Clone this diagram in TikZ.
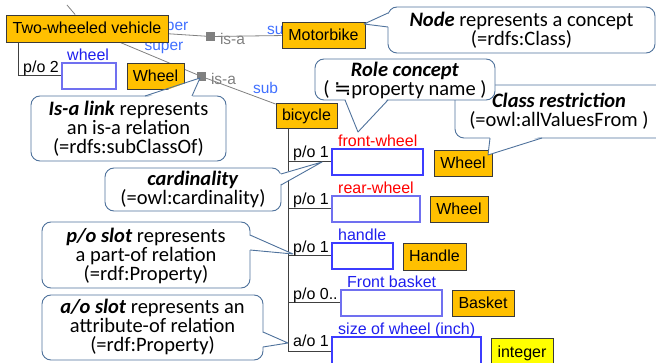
\documentclass[tikz,border=0pt]{standalone}
\usepackage{fontspec}
\usetikzlibrary{backgrounds}
\setmainfont{Liberation Sans}
\newfontfamily\calfont{Carlito}
\newfontfamily\symfont{DejaVu Sans}
\definecolor{gold}{HTML}{FFC000}
\definecolor{yel}{HTML}{FFFF00}
\definecolor{boxborder}{HTML}{3A3A3A}
\definecolor{slotblue}{HTML}{3C3CFF}
\definecolor{slotlight}{HTML}{7070F0}
\definecolor{lblblue}{HTML}{1E1EEE}
\definecolor{lblred}{HTML}{FF0000}
\definecolor{relblue}{HTML}{4070FF}
\definecolor{isagray}{HTML}{808080}
\definecolor{callblue}{HTML}{4F729C}
\definecolor{treegray}{HTML}{404040}
\begin{document}
\begin{tikzpicture}[x=1pt,y=-1pt,
  cls/.style={draw=boxborder, fill=gold, line width=0.8pt, inner sep=0pt,
    font=\fontsize{16}{18}\selectfont, text height=13pt, text depth=2pt},
  slotbox/.style={draw=slotblue, fill=white, line width=1.1pt, inner sep=0pt},
  slotlbl/.style={anchor=base west, inner sep=0pt, font=\fontsize{16}{18}\selectfont},
  cardlbl/.style={anchor=base west, inner sep=0pt, font=\fontsize{16}{18}\selectfont},
  rel/.style={inner sep=0pt, text=relblue, font=\fontsize{15.5}{17}\selectfont, text height=11pt, text depth=3pt},
  isalbl/.style={inner sep=0pt, text=isagray, font=\fontsize{15.5}{17}\selectfont, text height=11pt, text depth=3pt},
  isasq/.style={fill=isagray, minimum size=9pt, inner sep=0pt},
  isaline/.style={draw=isagray, line width=0.8pt},
  tree/.style={draw=treegray, line width=1pt},
  callout/.style={draw=callblue, fill=white, line width=0.9pt, rounded corners=9pt},
  pointer/.style={draw=callblue, line width=0.9pt, line join=round},
  calltext/.style={inner sep=0pt, align=center, font=\calfont\fontsize{20.5}{19}\selectfont}
]
\path[use as bounding box] (0,0) rectangle (656,363);

% relation labels (behind boxes)
\node[rel] (super1) at (169,27) {super};
\node[rel] (super2) at (164,47) {super};
\node[rel] (sub1) at (279.5,31) {sub};
\node[rel] (sub2) at (265.5,90) {sub};
\node[isalbl] (isa1) at (232.5,41) {is-a};
\node[isalbl] (isa2) at (223.5,81) {is-a};

% class boxes
\node[cls, minimum width=162pt, minimum height=27pt] (tw) at (87,28.5) {Two-wheeled vehicle};
\node[cls, minimum width=83pt, minimum height=26pt] (motor) at (323.5,35) {Motorbike};
\node[cls, minimum width=57pt, minimum height=26pt] (wheelA) at (155.5,76) {Wheel};
\node[cls, minimum width=61pt, minimum height=25pt] (bicycle) at (306.5,115.5) {bicycle};
\node[cls, minimum width=58pt, minimum height=26pt] (wheelB) at (463,163) {Wheel};
\node[cls, minimum width=58pt, minimum height=26pt] (wheelC) at (459,209) {Wheel};
\node[cls, minimum width=63pt, minimum height=27pt] (handleC) at (434.5,256.5) {Handle};
\node[cls, minimum width=62pt, minimum height=26pt] (basketC) at (483,303) {Basket};
\node[cls, fill=yel, minimum width=62pt, minimum height=28pt] (intC) at (522,352) {integer};

% is-a squares and links (behind the boxes)
\node[isasq] (sq1) at (210.5,36.5) {};
\node[isasq] (sq2) at (201.5,76.5) {};
\coordinate (offtop) at (67,5);
\begin{scope}[on background layer]
\draw[isaline] (tw) -- (sq1) -- (motor);
\draw[isaline] (tw) -- (sq2) -- (bicycle);
\draw[isaline] (offtop) -- (tw);
\end{scope}

% slots
\node[slotbox, draw=slotlight, minimum width=54pt, minimum height=26pt] (slotW) at (89,76) {};
\node[slotbox, minimum width=91pt, minimum height=26pt] (slotFW) at (377.5,162) {};
\node[slotbox, draw=slotlight, minimum width=88pt, minimum height=26pt] (slotRW) at (376,209) {};
\node[slotbox, minimum width=61pt, minimum height=26pt] (slotH) at (362.5,256) {};
\node[slotbox, draw=slotlight, minimum width=101pt, minimum height=26pt] (slotFB) at (391.5,303) {};
\node[slotbox, minimum width=149pt, minimum height=29pt] (slotS) at (406.5,351.5) {};

% slot labels
\node[slotlbl, text=lblblue] (lW) at (67,61) {wheel};
\node[slotlbl, text=lblred] (lFW) at (338,146.5) {front-wheel};
\node[slotlbl, text=lblred] (lRW) at (338,193.5) {rear-wheel};
\node[slotlbl, text=lblblue] (lH) at (338,240.5) {handle};
\node[slotlbl, text=lblblue] (lFB) at (347,287.5) {Front basket};
\node[slotlbl, text=lblblue] (lS) at (338,334.5) {size of wheel (inch)};

% tree lines
\coordinate (trunk2) at ([xshift=13pt]tw.south west);
\draw[tree] (trunk2) |- (slotW.west);
\coordinate (trunk) at ([xshift=13pt]bicycle.south west);
\draw[tree] (trunk) |- (slotS.west);
\draw[tree] (trunk |- slotFW.west) -- (slotFW.west);
\draw[tree] (trunk |- slotRW.west) -- (slotRW.west);
\draw[tree] (trunk |- slotH.west) -- (slotH.west);
\draw[tree] (trunk |- slotFB.west) -- (slotFB.west);

% cardinality labels
\node[cardlbl] (c0) at (23,73) {p/o 2};
\node[cardlbl] (c1) at (293,158) {p/o 1};
\node[cardlbl] (c2) at (293,205) {p/o 1};
\node[cardlbl] (c3) at (293,253) {p/o 1};
\node[cardlbl] (c4) at (293,300) {p/o 0..};
\node[cardlbl] (c5) at (293,347) {a/o 1};

% ---- callouts ----
% Node
\coordinate (tipNode) at (364,24);
\draw[callout] (388,7) rectangle (655,53);
\fill[white] (390,13) -- (tipNode) -- (390,27) -- cycle;
\draw[pointer] (388,13) -- (tipNode) -- (388,27);
\node[calltext] (tNode) at (521.5,30) {\textbf{\textit{Node}} represents a concept\\(=rdfs:Class)};

% Class restriction
\coordinate (tipClass) at (488,155);
\draw[callout] (455,85) rectangle (700,138);
\fill[white] (490,136) -- (tipClass) -- (542,136) -- cycle;
\draw[pointer] (490,138) -- (tipClass) -- (542,138);
\node[calltext] (tClass) at (559,111.5) {\textbf{\textit{Class restriction}}\\(=owl:allValuesFrom )};

% Role concept
\coordinate (tipRole) at (358,132);
\draw[callout] (315,59) rectangle (495,100);
\fill[white] (345,98) -- (tipRole) -- (388,98) -- cycle;
\draw[pointer] (345,100) -- (tipRole) -- (388,100);
\node[calltext] (tRole) at (405,80) {\textbf{\textit{Role concept}}\\( {\symfont ≒}property name )};

% Is-a link
\coordinate (tipIsa) at (200,78);
\draw[callout] (31,96) rectangle (226,161);
\fill[white] (145,98) -- (tipIsa) -- (192,98) -- cycle;
\draw[pointer] (145,96) -- (tipIsa) -- (192,96);
\node[calltext] (tIsa) at (128.5,128.5) {\textbf{\textit{Is-a link}} represents\\an is-a relation\\(=rdfs:subClassOf)};

% cardinality
\coordinate (tipCard) at (322,162);
\draw[callout] (105,168) rectangle (281,211);
\fill[white] (279,174) -- (tipCard) -- (279,185) -- cycle;
\draw[pointer] (281,174) -- (tipCard) -- (281,185);
\node[calltext] (tCard) at (193,189.5) {\textbf{\textit{cardinality}}\\(=owl:cardinality)};

% p/o slot
\coordinate (tipPO) at (293,254);
\draw[callout] (42,222) rectangle (250,288);
\fill[white] (248,235) -- (tipPO) -- (248,250) -- cycle;
\draw[pointer] (250,235) -- (tipPO) -- (250,250);
\node[calltext] (tPO) at (146,255.5) {\textbf{\textit{p/o slot}} represents\\a part-of relation\\(=rdf:Property)};

% a/o slot
\coordinate (tipAO) at (288,343);
\draw[callout] (42,295) rectangle (263,360);
\fill[white] (261,332) -- (tipAO) -- (261,347) -- cycle;
\draw[pointer] (263,332) -- (tipAO) -- (263,347);
\node[calltext] (tAO) at (152.5,326.5) {\textbf{\textit{a/o slot}} represents an\\attribute-of relation\\(=rdf:Property)};
\end{tikzpicture}
\end{document}
